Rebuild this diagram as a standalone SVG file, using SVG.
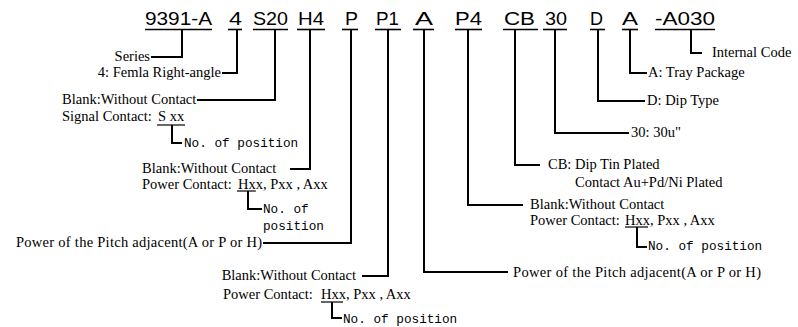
<svg xmlns="http://www.w3.org/2000/svg" width="798" height="327" viewBox="0 0 798 327">
<style>
.code{font-family:"Liberation Sans",Arial,sans-serif;font-size:18.5px;fill:#000}
.lbl{font-family:"Liberation Serif","Times New Roman",serif;font-size:14.5px;fill:#000}
.mono{font-family:"Liberation Mono","Courier New",monospace;font-size:12.7px;fill:#000}
.ul{stroke:#000;stroke-width:1.6;fill:none}
.cn{stroke:#000;stroke-width:2;fill:none}
.sul{stroke:#000;stroke-width:1.2;fill:none}
</style>
<rect width="798" height="327" fill="#fff"/>
<g id="code-9391A"><text class="code" x="145" y="25" textLength="67" lengthAdjust="spacingAndGlyphs">9391-A</text><line class="ul" x1="145" y1="29.5" x2="212" y2="29.5"/></g>
<g id="code-4"><text class="code" x="229" y="25" textLength="13" lengthAdjust="spacingAndGlyphs">4</text><line class="ul" x1="228" y1="29.5" x2="242" y2="29.5"/></g>
<g id="code-S20"><text class="code" x="253" y="25" textLength="35" lengthAdjust="spacingAndGlyphs">S20</text><line class="ul" x1="253" y1="29.5" x2="288" y2="29.5"/></g>
<g id="code-H4"><text class="code" x="298" y="25" textLength="26" lengthAdjust="spacingAndGlyphs">H4</text><line class="ul" x1="297" y1="29.5" x2="325" y2="29.5"/></g>
<g id="code-P"><text class="code" x="345" y="25" textLength="13" lengthAdjust="spacingAndGlyphs">P</text><line class="ul" x1="342" y1="29.5" x2="358" y2="29.5"/></g>
<g id="code-P1"><text class="code" x="376" y="25" textLength="23" lengthAdjust="spacingAndGlyphs">P1</text><line class="ul" x1="375" y1="29.5" x2="401" y2="29.5"/></g>
<g id="code-A1"><text class="code" x="415" y="25" textLength="18" lengthAdjust="spacingAndGlyphs">A</text><line class="ul" x1="413" y1="29.5" x2="434" y2="29.5"/></g>
<g id="code-P4"><text class="code" x="455" y="25" textLength="27" lengthAdjust="spacingAndGlyphs">P4</text><line class="ul" x1="455" y1="29.5" x2="482" y2="29.5"/></g>
<g id="code-CB"><text class="code" x="504" y="25" textLength="31" lengthAdjust="spacingAndGlyphs">CB</text><line class="ul" x1="503" y1="29.5" x2="538" y2="29.5"/></g>
<g id="code-30"><text class="code" x="545" y="25" textLength="22" lengthAdjust="spacingAndGlyphs">30</text><line class="ul" x1="543" y1="29.5" x2="567" y2="29.5"/></g>
<g id="code-D"><text class="code" x="590" y="25" textLength="13" lengthAdjust="spacingAndGlyphs">D</text><line class="ul" x1="590" y1="29.5" x2="605" y2="29.5"/></g>
<g id="code-A2"><text class="code" x="622" y="25" textLength="16" lengthAdjust="spacingAndGlyphs">A</text><line class="ul" x1="622" y1="29.5" x2="638" y2="29.5"/></g>
<g id="code-A030"><text class="code" x="655" y="25" textLength="60" lengthAdjust="spacingAndGlyphs">-A030</text><line class="ul" x1="655" y1="29.5" x2="715" y2="29.5"/></g>

<g id="connectors">
<path class="cn" d="M182,30 V57 H151"/>
<path class="cn" d="M237,30 V73 H222"/>
<path class="cn" d="M275,30 V100 H197"/>
<path class="cn" d="M310,30 V169 H290"/>
<path class="cn" d="M351,30 V243 H263"/>
<path class="cn" d="M388,30 V276 H362"/>
<path class="cn" d="M424,30 V272 H508"/>
<path class="cn" d="M468,30 V205 H523"/>
<path class="cn" d="M515,30 V165 H540"/>
<path class="cn" d="M555,30 V133 H629"/>
<path class="cn" d="M598,30 V101 H645"/>
<path class="cn" d="M630,30 V73 H647"/>
<path class="cn" d="M691,30 V53 H702"/>
<path class="cn" d="M172,125 V143 H182"/>
<path class="cn" d="M248,191 V209 H262"/>
<path class="cn" d="M332,302 V318 H342"/>
<path class="cn" d="M637,227 V247 H647"/>
</g>

<g id="label-series"><text class="lbl" x="150" y="61" text-anchor="end">Series</text></g>
<g id="label-femla"><text class="lbl" x="221" y="77" text-anchor="end">4: Femla Right-angle</text></g>
<g id="label-signal">
<text class="lbl" x="62" y="104">Blank:Without Contact</text>
<text class="lbl" x="62" y="121">Signal Contact: <tspan x="158">S xx</tspan></text>
<line class="sul" x1="157" y1="125" x2="185" y2="125"/>
<text class="mono" x="184" y="147">No. of position</text>
</g>
<g id="label-h4">
<text class="lbl" x="142" y="173">Blank:Without Contact</text>
<text class="lbl" x="142" y="189">Power Contact: <tspan x="238">Hxx, Pxx , Axx</tspan></text>
<line class="sul" x1="237" y1="191" x2="256" y2="191"/>
<text class="mono" x="263" y="213">No. of</text>
<text class="mono" x="263" y="230">position</text>
</g>
<g id="label-p"><text class="lbl" x="262" y="247" text-anchor="end" textLength="246">Power of the Pitch adjacent(A or P or H)</text></g>
<g id="label-p1">
<text class="lbl" x="356" y="280" text-anchor="end">Blank:Without Contact</text>
<text class="lbl" x="223" y="299">Power Contact: <tspan x="321">Hxx, Pxx , Axx</tspan></text>
<line class="sul" x1="321" y1="302" x2="343" y2="302"/>
<text class="mono" x="343" y="323">No. of position</text>
</g>
<g id="label-a1"><text class="lbl" x="513" y="277" textLength="248">Power of the Pitch adjacent(A or P or H)</text></g>
<g id="label-p4">
<text class="lbl" x="530" y="209">Blank:Without Contact</text>
<text class="lbl" x="530" y="225">Power Contact: <tspan x="625">Hxx, Pxx , Axx</tspan></text>
<line class="sul" x1="625" y1="227" x2="648" y2="227"/>
<text class="mono" x="648" y="250">No. of position</text>
</g>
<g id="label-cb">
<text class="lbl" x="548" y="169">CB: Dip Tin Plated</text>
<text class="lbl" x="575" y="187">Contact Au+Pd/Ni Plated</text>
</g>
<g id="label-30"><text class="lbl" x="631" y="137">30: 30u"</text></g>
<g id="label-d"><text class="lbl" x="647" y="105">D: Dip Type</text></g>
<g id="label-a2"><text class="lbl" x="648" y="77">A: Tray Package</text></g>
<g id="label-internal"><text class="lbl" x="712" y="57">Internal Code</text></g>
</svg>
